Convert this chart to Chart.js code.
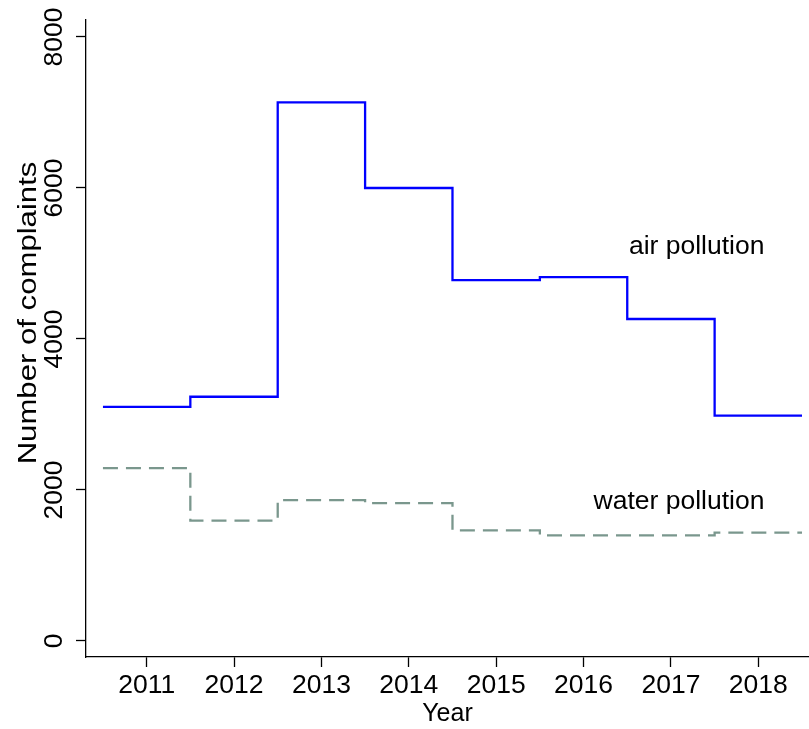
<!DOCTYPE html>
<html>
<head>
<meta charset="utf-8">
<script src="https://cdn.jsdelivr.net/npm/chart.js@4"></script>
<style>
  html, body { margin: 0; padding: 0; background: #fff; }
  #wrap { width: 809px; height: 729px; }
</style>
</head>
<body>
<div id="wrap"><canvas id="myChart" width="809" height="729"></canvas></div>
<script>
'use strict';

// values
let years = [2011, 2012, 2013, 2014, 2015, 2016, 2017, 2018];
let airPollution = [3100, 3235, 7135, 6000, 4780, 4820, 4265, 2985];
let waterPollution = [2290, 1595, 1865, 1825, 1465, 1400, 1400, 1435];
let yTicks = [0, 2000, 4000, 6000, 8000];
let seriesLabels = ['air pollution', 'water pollution'];
let labelAt = [[2018.07, 5220], [2018.07, 1845]];
let yTitle = 'Number of complaints';

const FONT = 'Liberation Sans, Arial, Helvetica, sans-serif';

// each year is a flat step from year-0.5 to year+0.5
function stepPoints(values) {
    let pts = [];
    for (let i = 0; i < years.length; i++) {
        pts.push({ x: years[i] - 0.5, y: values[i] });
        pts.push({ x: years[i] + 0.5, y: values[i] });
    }
    return pts;
}

const lineLabels = {
    id: 'lineLabels',
    afterDatasetsDraw(chart) {
        const ctx = chart.ctx;
        const xs = chart.scales.x;
        const ys = chart.scales.y;
        ctx.save();
        ctx.font = '26.5px ' + FONT;
        ctx.fillStyle = '#000';
        ctx.textAlign = 'right';
        ctx.textBaseline = 'middle';
        for (let i = 0; i < seriesLabels.length; i++) {
            ctx.fillText(seriesLabels[i], xs.getPixelForValue(labelAt[i][0]), ys.getPixelForValue(labelAt[i][1]));
        }
        // y title is stretched along its length in the original
        ctx.translate(36, 313);
        ctx.rotate(-Math.PI / 2);
        ctx.scale(1.245, 1);
        ctx.font = '25px ' + FONT;
        ctx.textAlign = 'center';
        ctx.textBaseline = 'alphabetic';
        ctx.fillText(yTitle, 0, 0);
        ctx.restore();
    }
};

var ctx = document.getElementById('myChart').getContext('2d');
var myChart = new Chart(ctx, {
    type: 'line',
    data: {
        datasets: [{
            label: seriesLabels[0],
            data: stepPoints(airPollution),
            borderColor: '#0000ff',
            borderWidth: 2.3,
            pointRadius: 0,
            tension: 0,
            fill: false
        },
        {
            label: seriesLabels[1],
            data: stepPoints(waterPollution),
            borderColor: '#7a978d',
            borderWidth: 2.3,
            borderDash: [15, 8],
            pointRadius: 0,
            tension: 0,
            fill: false
        }]
    },
    options: {
        responsive: false,
        animation: false,
        layout: { padding: { top: 20, right: 0, left: 0, bottom: 0 } },
        plugins: {
            legend: { display: false },
            tooltip: { enabled: false }
        },
        scales: {
            x: {
                type: 'linear',
                min: 2010.306,
                max: 2018.58,
                afterBuildTicks: function (scale) {
                    scale.ticks = years.map(v => ({ value: v }));
                },
                afterFit: function (scale) { scale.height = 72; },
                grid: { drawOnChartArea: false, drawTicks: true, tickLength: 10, tickColor: '#000', tickWidth: 1.3 },
                border: { display: true, color: '#000', width: 1.3 },
                ticks: {
                    color: '#000',
                    font: { family: FONT, size: 26.5 },
                    padding: 3,
                    maxRotation: 0,
                    minRotation: 0,
                    callback: v => String(v)
                },
                title: {
                    display: true,
                    text: 'Year',
                    color: '#000',
                    font: { family: FONT, size: 25, lineHeight: 1.2 },
                    padding: { top: 0, bottom: 0 }
                }
            },
            y: {
                type: 'linear',
                min: -212,
                max: 8225,
                afterBuildTicks: function (scale) {
                    scale.ticks = yTicks.map(v => ({ value: v }));
                },
                afterFit: function (scale) { scale.width = 86; },
                grid: { drawOnChartArea: false, drawTicks: true, tickLength: 10, tickColor: '#000', tickWidth: 1.3 },
                border: { display: true, color: '#000', width: 1.3 },
                ticks: {
                    color: '#000',
                    font: { family: FONT, size: 26.5 },
                    minRotation: 90,
                    maxRotation: 90,
                    crossAlign: 'center',
                    padding: -8,
                    callback: v => String(v)
                },
                title: { display: false }
            }
        }
    },
    plugins: [lineLabels]
});
</script>
</body>
</html>
